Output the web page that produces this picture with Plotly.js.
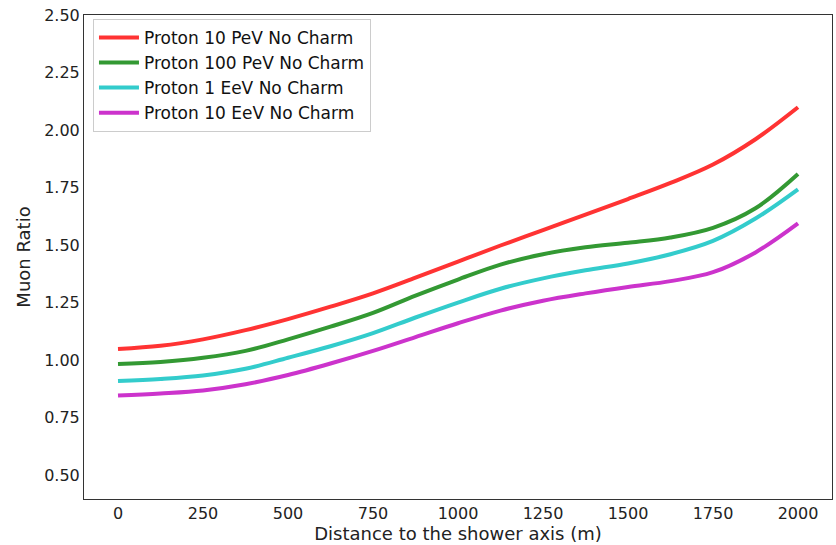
<!DOCTYPE html>
<html>
<head>
<meta charset="utf-8">
<script src="https://cdn.plot.ly/plotly-3.0.1.min.js"></script>
<style>html,body{margin:0;padding:0;background:#fff;}#chart{width:836px;height:545px;}</style>
</head>
<body>
<div id="chart"></div>
<script>
const distance = [0, 125, 250, 375, 500, 625, 750, 875, 1000, 1125, 1250, 1375, 1500, 1625, 1750, 1875, 2000];
const proton10PeV = [1.048, 1.062, 1.09, 1.13, 1.178, 1.232, 1.29, 1.358, 1.428, 1.498, 1.565, 1.632, 1.70, 1.77, 1.85, 1.96, 2.099];
const proton100PeV = [0.983, 0.992, 1.01, 1.04, 1.09, 1.145, 1.205, 1.28, 1.35, 1.415, 1.46, 1.49, 1.51, 1.533, 1.575, 1.66, 1.809];
const proton1EeV = [0.909, 0.918, 0.933, 0.962, 1.01, 1.06, 1.117, 1.185, 1.25, 1.31, 1.355, 1.39, 1.42, 1.46, 1.518, 1.615, 1.742];
const proton10EeV = [0.846, 0.855, 0.868, 0.895, 0.935, 0.985, 1.04, 1.10, 1.16, 1.215, 1.258, 1.29, 1.318, 1.343, 1.382, 1.468, 1.594];
const seriesNames = ["Proton 10 PeV No Charm", "Proton 100 PeV No Charm", "Proton 1 EeV No Charm", "Proton 10 EeV No Charm"];
const seriesColors = ["rgb(255,51,51)", "rgb(51,153,51)", "rgb(51,204,204)", "rgb(204,51,204)"];
const xTicks = [0, 250, 500, 750, 1000, 1250, 1500, 1750, 2000];
const yTicks = [0.5, 0.75, 1.0, 1.25, 1.5, 1.75, 2.0, 2.25, 2.5];

const allSeries = [proton10PeV, proton100PeV, proton1EeV, proton10EeV];
const traces = allSeries.map((ys, i) => ({
  x: distance, y: ys, type: 'scatter', mode: 'lines', name: seriesNames[i],
  line: {color: seriesColors[i], width: 4, shape: 'spline', smoothing: 1.0}
}));

const FF = 'DejaVu Sans, sans-serif';
const layout = {
  width: 836, height: 545,
  margin: {l: 84, r: 4, t: 15, b: 46},
  paper_bgcolor: '#fff', plot_bgcolor: '#fff',
  font: {family: FF, size: 16, color: '#000'},
  showlegend: true,
  legend: {
    x: 0.012, y: 0.992, xanchor: 'left', yanchor: 'top',
    bgcolor: 'rgba(255,255,255,0.8)', bordercolor: '#cccccc', borderwidth: 1,
    font: {family: FF, size: 17, color: '#111'},
    itemwidth: 40, tracegroupgap: 0
  },
  xaxis: {
    range: [-100, 2100], tickvals: xTicks, ticktext: xTicks.map(String),
    showgrid: false, zeroline: false, showline: true, mirror: true,
    linecolor: '#333', linewidth: 1, ticks: '', ticklen: 0,
    tickfont: {family: FF, size: 16, color: '#222'},
    title: {text: 'Distance to the shower axis (m)', font: {family: FF, size: 18, color: '#222'}, standoff: 5}
  },
  yaxis: {
    range: [0.396, 2.5], tickvals: yTicks, ticktext: yTicks.map(v => v.toFixed(2)),
    showgrid: false, zeroline: false, showline: true, mirror: true,
    linecolor: '#333', linewidth: 1, ticks: '', ticklen: 0,
    tickfont: {family: FF, size: 16, color: '#222'},
    title: {text: 'Muon Ratio', font: {family: FF, size: 18, color: '#222'}, standoff: 8}
  }
};
Plotly.newPlot('chart', traces, layout, {displayModeBar: false, staticPlot: true});
</script>
</body>
</html>
